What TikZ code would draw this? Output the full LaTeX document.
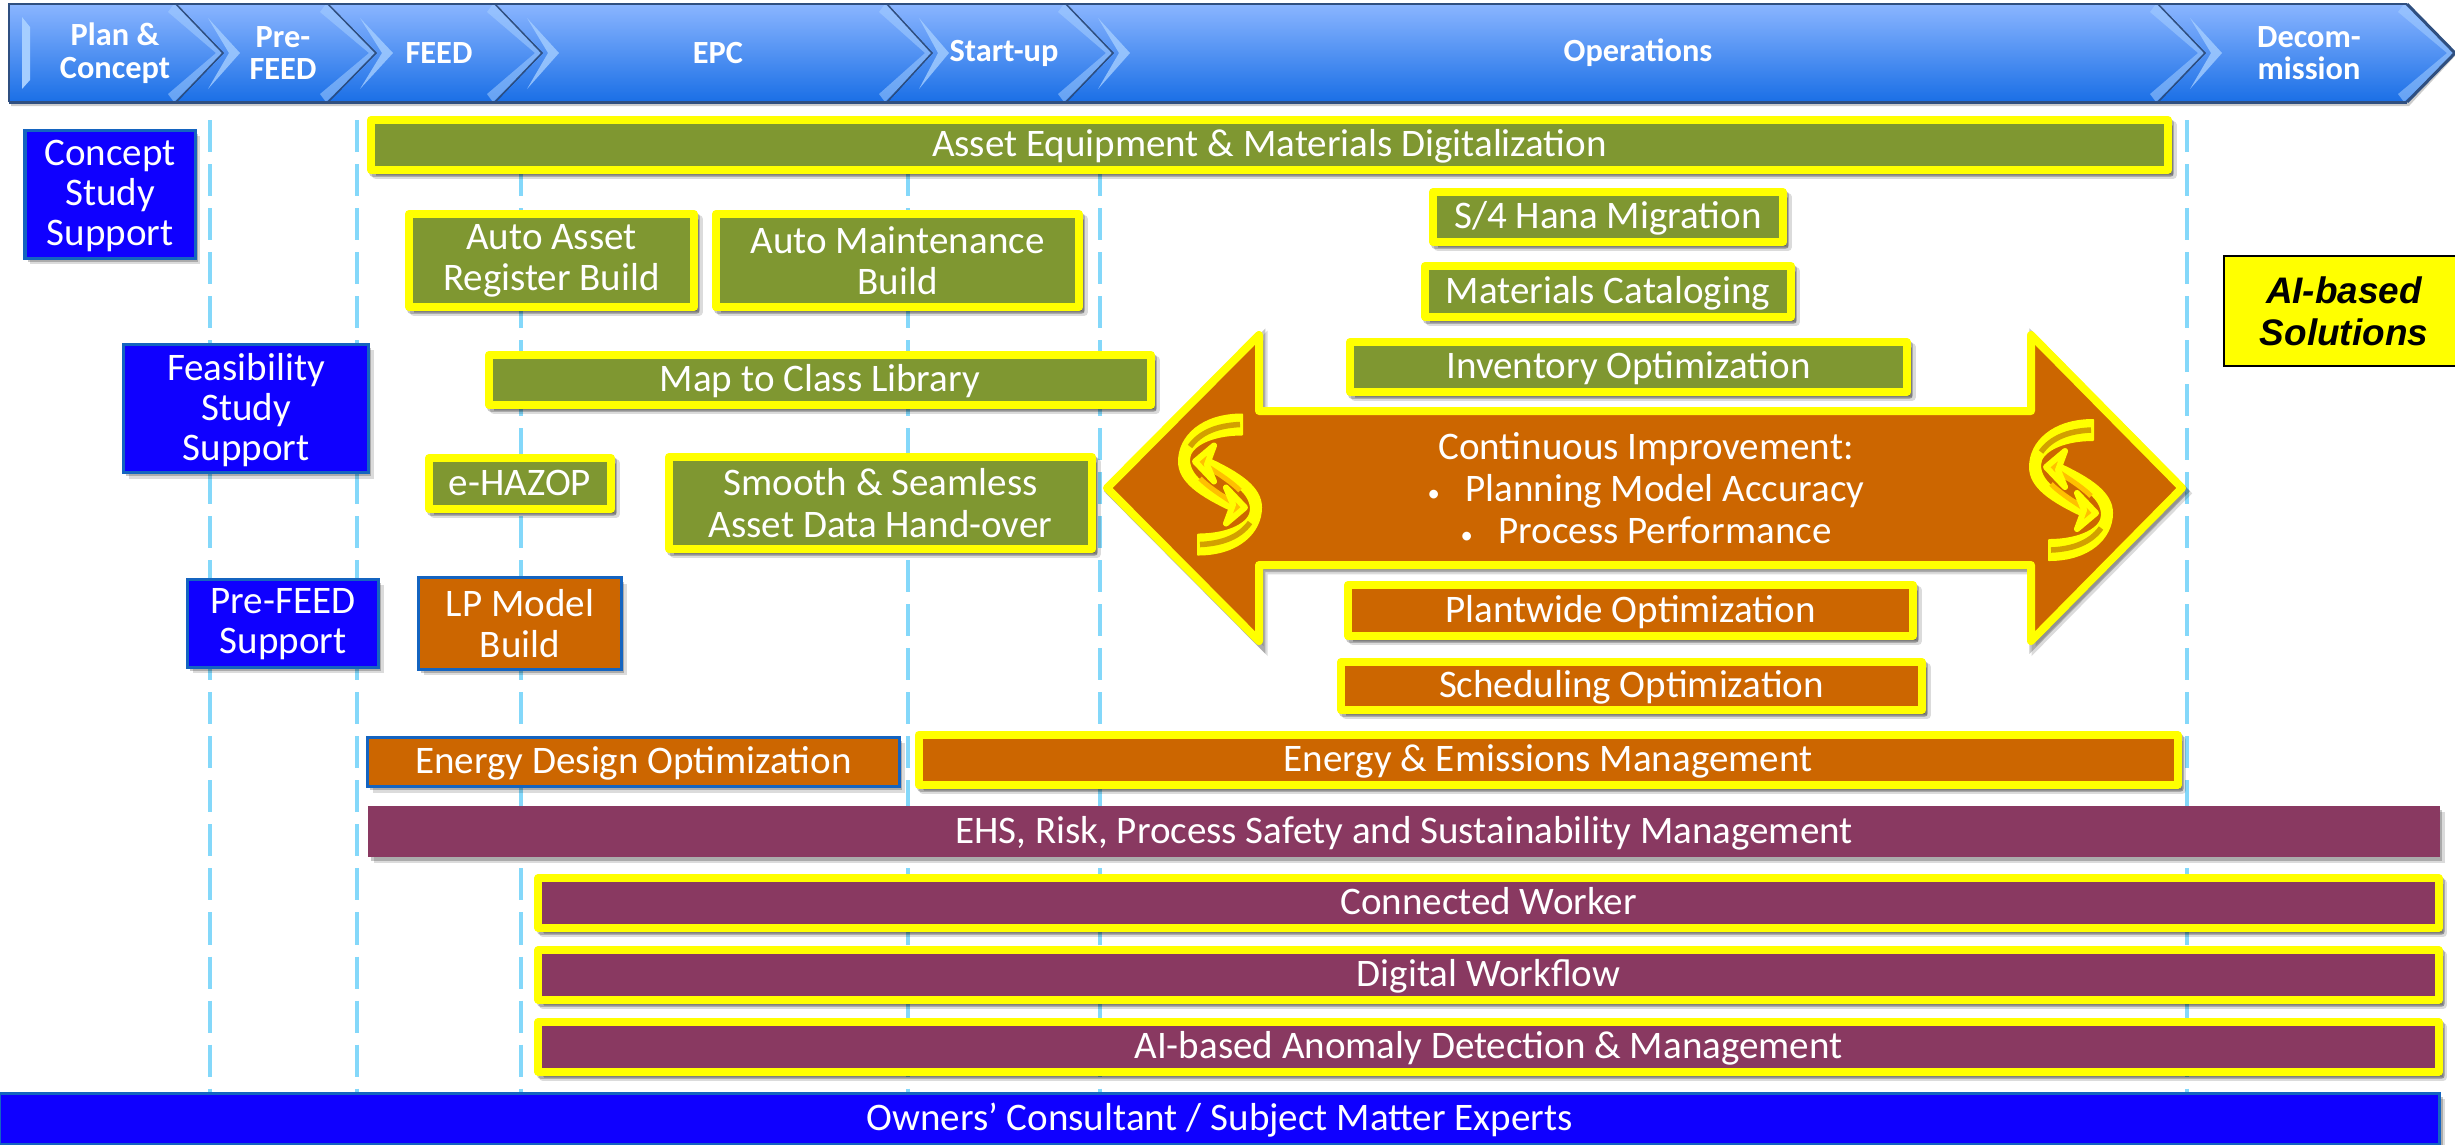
\documentclass[tikz,border=0pt]{standalone}
\usepackage{fontspec}
\setmainfont{Carlito}
\newfontfamily\arialfont{Liberation Sans}
\usetikzlibrary{shadows}

\definecolor{oliveFill}{HTML}{7F9731}
\definecolor{orangeFill}{HTML}{CC6600}
\definecolor{plumFill}{HTML}{893961}
\definecolor{pureBlue}{HTML}{0F00FF}
\definecolor{edgeBlue}{HTML}{1464C0}
\definecolor{markYellow}{HTML}{FFFF00}
\definecolor{phaseLine}{HTML}{84D8FA}
\definecolor{headTop}{HTML}{8AB5FF}
\definecolor{headMid}{HTML}{5F9BF5}
\definecolor{headLow}{HTML}{1A6FE6}
\definecolor{headLine}{HTML}{2F4F80}
\definecolor{headBevel}{HTML}{A5CEFF}
\definecolor{swirlDark}{HTML}{D2A000}
\definecolor{swirlGold}{HTML}{FFC000}

\newcommand{\oneline}[1]{\raisebox{0pt}[7.4pt][.6pt]{#1}}

\tikzset{
	softshadow/.style={
		drop shadow={shadow xshift=1.5pt,shadow yshift=-1.7pt,opacity=.14,fill=black},
		drop shadow={shadow xshift=.8pt,shadow yshift=-1pt,opacity=.22,fill=black}},
	edgeshadow/.style={
		drop shadow={shadow xshift=1.3pt,shadow yshift=-1.5pt,opacity=.14,fill=black,draw=black,line width=.08cm},
		drop shadow={shadow xshift=.7pt,shadow yshift=-.9pt,opacity=.22,fill=black,draw=black,line width=.08cm}},
	textbox/.style={inner sep=0pt,outer sep=0pt,align=center,text=white,
		font=\fontsize{11.1}{11.7}\selectfont},
	markbox/.style={textbox,softshadow,edgeshadow,draw=markYellow,line width=.08cm,line join=round},
	thinbox/.style={textbox,softshadow,draw=edgeBlue,line width=.03cm},
	phasebox/.style={textbox,softshadow,draw=edgeBlue,line width=.03cm,fill=pureBlue,text depth=1pt,
		font=\fontsize{11.1}{11.4}\selectfont},
	headtext/.style={inner sep=0pt,align=center,text=white,
		font=\bfseries\fontsize{9.2}{9.3}\selectfont},
	phasegrid/.style={draw=phaseLine,line width=.04cm,dash pattern=on .32cm off .12cm},
	swirlband/.style={fill=markYellow,draw=markYellow,line width=.02cm,line join=round},
	swirl/.pic={
		\foreach \ang in {0,180} {
			\begin{scope}[rotate=\ang]
				\draw[swirlband] (22,-70) .. controls (-18,-70) and (-41,-48) .. (-41,-23) .. controls (-41,-3) and (-20,11) .. (12,26)
					-- (14,15) .. controls (-8,6) and (-31,-6) .. (-31,-25) .. controls (-31,-38) and (-10,-50) .. (22,-50) -- cycle;
				\draw[draw=swirlDark,line width=.055cm] (20,-60) .. controls (-3,-59) and (-20,-52) .. (-30,-38);
				\draw[draw=swirlGold,line width=.05cm] (-20,-6) .. controls (-12,2) and (0,10) .. (14,19);
				\draw[fill=swirlGold,draw=markYellow,line width=.06cm,line join=round] (25,23) -- (6,3) -- (13,20) -- (6,39) -- cycle;
			\end{scope}}
	}
}

\begin{document}
\begin{tikzpicture}[x=.01cm,y=-.01cm]
	\useasboundingbox (0,0) rectangle (2455,1144);
	% phase boundaries
	\foreach \x in {210,357,521,908,1100,2187}
		\draw[phasegrid] (\x,120) -- (\x,1093);
	% header chevrons
	\fill[black,opacity=.2] (11,7) -- (2409,7) -- (2455,56) -- (2409,106) -- (11,106) -- cycle;
	\foreach \xa/\ta/\xb/\tb in {9/9/177/224, 177/224/329/377, 329/377/496/543, 496/543/888/933, 888/933/1067/1114, 1067/1114/2159/2206, 2159/2206/2407/2455}
	{
		\fill[top color=headTop,middle color=headMid,bottom color=headLow]
			(\xa,4) -- (\xb,4) -- (\tb,53) -- (\xb,102) -- (\xa,102) -- (\ta,53) -- cycle;
		\fill[headBevel,opacity=.55] (\xb-9,12) -- (\tb-8,53) -- (\xb-9,94) -- (\xb-3,102) -- (\tb,53) -- (\xb-3,4) -- cycle;
		\draw[headLine,line width=.03cm] (\xb,4) -- (\tb,53) -- (\xb,102);
	}
	\foreach \xb/\tb in {177/224, 329/377, 496/543, 888/933, 1067/1114, 2159/2206}
		\fill[headBevel,opacity=.8] (\xb+31,18) -- (\tb+16,53) -- (\xb+31,89) -- (\tb+5,53) -- cycle;
	\draw[headLine,line width=.025cm] (9,102) -- (9,4) -- (2407,4);
	\draw[headLine,line width=.03cm] (9,102) -- (2407,102);
	\fill[headBevel] (22,17) -- (30,27) -- (30,80) -- (22,89) -- cycle;
	\foreach \name/\x/\txt in {plan/115/{Plan \&\\Concept}, prefeedhead/283/{Pre-\\FEED}, feedhead/439/FEED, epchead/718/EPC, startup/1004/Start-up, operations/1638/Operations, decom/2309/{Decom-\\mission}}
		\node[headtext] (\name) at (\x,53) {\txt};

	% improvement arrow
	\draw[fill=orangeFill,draw=markYellow,line width=.08cm,line join=round,edgeshadow]
		(1107,488) -- (1259,335) -- (1259,411) -- (2031,411) -- (2031,335) -- (2182,488)
		-- (2031,641) -- (2031,565) -- (1259,565) -- (1259,641) -- cycle;
	\pic at (1220,484.5) {swirl};
	\pic at (2071,490) {swirl};
	\node[textbox,font=\fontsize{11.1}{12}\selectfont] (improve) at (1646,488) {Continuous Improvement:\\{\scriptsize\textbullet}\hspace{.65em}Planning Model Accuracy\\{\scriptsize\textbullet}\hspace{.65em}Process Performance};

	% olive boxes
	\foreach \name/\x/\y/\w/\h/\txt in {assetdigital/1269.5/145/1797/50/{\oneline{Asset Equipment \& Materials Digitalization}},
		assetreg/551.5/260.5/285/93/{Auto Asset\\Register Build},
		maintbuild/897.5/260.5/363/93/{Auto Maintenance\\Build},
		classlib/820/380/662/50/{\oneline{Map to Class Library}},
		ehazop/520/483.5/182/51/{\oneline{e-HAZOP}},
		handover/880.5/503/423/92/{Smooth \& Seamless\\Asset Data Hand-over},
		hana/1608/217/350/50/{\oneline{S/4 Hana Migration}},
		catalog/1608/291.5/366/51/{\oneline{Materials Cataloging}},
		inventory/1628.5/367/557/50/{\oneline{Inventory Optimization}}}
		\node[markbox,fill=oliveFill,minimum width=\w*.01cm,minimum height=\h*.01cm] (\name) at (\x,\y) {\txt};
	% orange boxes
	\foreach \name/\x/\y/\w/\h/\txt in {plantwide/1630.5/610.5/565/51/{\oneline{Plantwide Optimization}},
		scheduling/1631.5/686/581/48/{\oneline{Scheduling Optimization}},
		emissions/1548/760/1259/50/{\oneline{Energy \& Emissions Management}}}
		\node[markbox,fill=orangeFill,minimum width=\w*.01cm,minimum height=\h*.01cm] (\name) at (\x,\y) {\txt};
	\node[thinbox,fill=orangeFill,minimum width=2.03cm,minimum height=.91cm] (lpmodel) at (520,623.5) {LP Model\\Build};
	\node[thinbox,fill=orangeFill,minimum width=5.32cm,minimum height=.49cm] (energydesign) at (633.5,762) {\oneline{Energy Design Optimization}};
	% plum bars
	\node[textbox,softshadow,fill=plumFill,minimum width=20.7cm,minimum height=.51cm] (ehs) at (1404,831.5) {\oneline{EHS, Risk, Process Safety and Sustainability Management}};
	\foreach \name/\y/\txt in {worker/903/{Connected Worker}, workflow/975/{Digital Workflow}, anomaly/1047/{AI-based Anomaly Detection \& Management}}
		\node[markbox,fill=plumFill,minimum width=18.99cm,minimum height=.5cm] (\name) at (1488.5,\y) {\oneline{\txt}};
	% blue support boxes
	\foreach \name/\x/\y/\w/\h/\txt in {concept/110/194.5/170/128/{Concept\\Study\\Support},
		feasibility/246/408.5/245/128/{Feasibility\\Study\\Support},
		prefeed/283/623/191/88/{Pre-FEED\\Support}}
		\node[phasebox,minimum width=\w*.01cm,minimum height=\h*.01cm] (\name) at (\x,\y) {\txt};
	\node[thinbox,fill=pureBlue,minimum width=24.39cm,minimum height=.51cm] (owners) at (1219.5,1119) {\oneline{Owners’ Consultant / Subject Matter Experts}};
	% legend
	\node[inner sep=0pt,align=center,draw=black,line width=.028cm,fill=markYellow,minimum width=2.4cm,minimum height=1.1cm,font=\arialfont\bfseries\itshape\fontsize{10.5}{12}\selectfont] (legend) at (2344,311) {AI-based\\Solutions};
\end{tikzpicture}
\end{document}
